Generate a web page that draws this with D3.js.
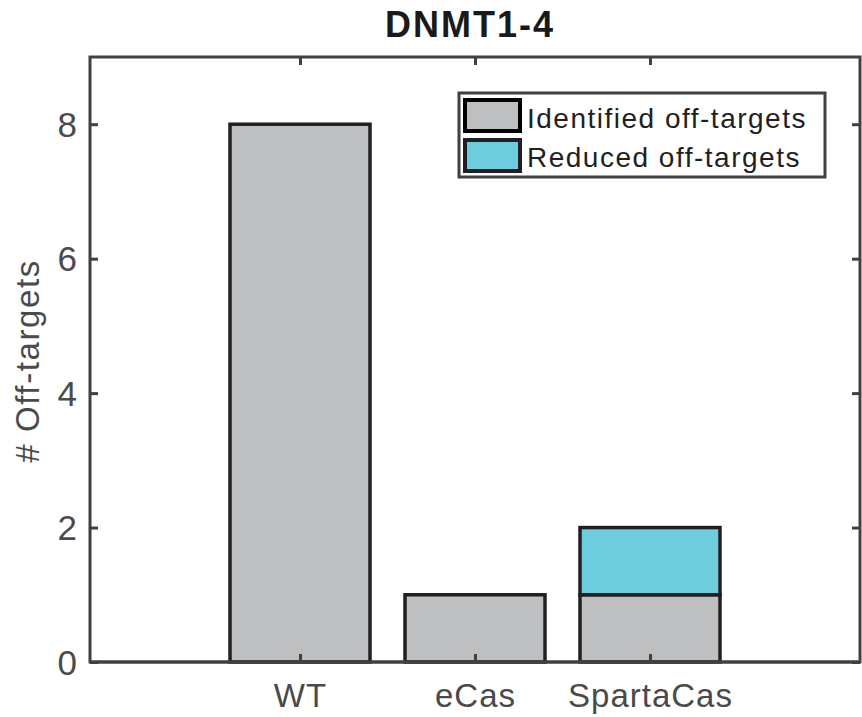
<!DOCTYPE html>
<html>
<head>
<meta charset="utf-8">
<script src="https://cdn.jsdelivr.net/npm/d3@7/dist/d3.min.js"></script>
<style>
  html, body { margin: 0; padding: 0; background: #fff; }
  svg { display: block; }
  text { font-family: "Liberation Sans", Arial, Helvetica, sans-serif; }
</style>
</head>
<body>
<svg id="chart" width="862" height="717"></svg>
<script>
// Data
const categories = ["WT", "eCas", "SpartaCas"];
const identified = [8, 1, 1];
const reduced = [0, 0, 1];
const seriesNames = ["Identified off-targets", "Reduced off-targets"];
const seriesColors = ["#bebfc1", "#6ecddc"];
const yTicks = [0, 2, 4, 6, 8];
const titleText = "DNMT1-4";
const yLabel = "# Off-targets";

const svg = d3.select("#chart");
const margin = { left: 90, right: 2, top: 57, bottom: 55 };
const W = 862, H = 717;
const x0 = margin.left, x1 = W - margin.right;
const y0 = H - margin.bottom, y1 = margin.top;

const axisColor = "#404040";
const edgeColor = "#231f20";

// Category positions 1..n on a numeric axis with padding on both sides
const x = d3.scaleLinear().domain([-0.2, 4.2]).range([x0, x1]);
const y = d3.scaleLinear().domain([0, 9]).range([y0, y1]);
const barW = x(0.8) - x(0);

// Stacked series
const stacked = categories.map((c, i) => ({
  cat: c, pos: i + 1,
  segs: [
    { s: 0, lo: 0, hi: identified[i] },
    { s: 1, lo: identified[i], hi: identified[i] + reduced[i] }
  ].filter(d => d.hi > d.lo)
}));

const bars = svg.append("g");
stacked.forEach(b => {
  b.segs.forEach(seg => {
    bars.append("rect")
      .attr("x", x(b.pos) - barW / 2)
      .attr("y", y(seg.hi))
      .attr("width", barW)
      .attr("height", y(seg.lo) - y(seg.hi))
      .attr("fill", seriesColors[seg.s])
      .attr("stroke", edgeColor)
      .attr("stroke-width", 3.5);
  });
});

// Axes box
const tickLen = 8;
svg.append("rect")
  .attr("x", x0).attr("y", y1)
  .attr("width", x1 - x0).attr("height", y0 - y1)
  .attr("fill", "none").attr("stroke", axisColor).attr("stroke-width", 3);

// Bottom axis
const xAxis = d3.axisBottom(x).tickValues([1, 2, 3])
  .tickFormat(d => categories[d - 1]).tickSizeInner(-tickLen).tickSizeOuter(0);
const gx = svg.append("g").attr("transform", `translate(0,${y0})`).call(xAxis);
gx.select(".domain").remove();
gx.selectAll(".tick line").attr("stroke", axisColor).attr("stroke-width", 3);
gx.selectAll(".tick text")
  .attr("fill", "#4a4a4a").attr("font-size", 33)
  .attr("letter-spacing", 1)
  .attr("x", 0).attr("y", 45).attr("dy", null)
  .attr("text-anchor", "middle");

// Top mirror ticks
const gxt = svg.append("g").attr("transform", `translate(0,${y1})`)
  .call(d3.axisTop(x).tickValues([1, 2, 3]).tickSizeInner(-tickLen).tickSizeOuter(0).tickFormat(""));
gxt.select(".domain").remove();
gxt.selectAll(".tick line").attr("stroke", axisColor).attr("stroke-width", 3);

// Left axis
const yAxis = d3.axisLeft(y).tickValues(yTicks).tickSizeInner(-tickLen).tickSizeOuter(0);
const gy = svg.append("g").attr("transform", `translate(${x0},0)`).call(yAxis);
gy.select(".domain").remove();
gy.selectAll(".tick line").attr("stroke", axisColor).attr("stroke-width", 3);
gy.selectAll(".tick text")
  .attr("fill", "#4a4a4a").attr("font-size", 35)
  .attr("x", -13).attr("y", 12).attr("dy", null)
  .attr("text-anchor", "end");

// Right mirror ticks
const gyr = svg.append("g").attr("transform", `translate(${x1},0)`)
  .call(d3.axisRight(y).tickValues(yTicks).tickSizeInner(-tickLen).tickSizeOuter(0).tickFormat(""));
gyr.select(".domain").remove();
gyr.selectAll(".tick line").attr("stroke", axisColor).attr("stroke-width", 3);

// Baseline drawn over the bar edges
svg.append("line").attr("x1", x0).attr("x2", x1).attr("y1", y0).attr("y2", y0)
  .attr("stroke", axisColor).attr("stroke-width", 3);

// Title
svg.append("text")
  .attr("x", 470).attr("y", 37)
  .attr("text-anchor", "middle")
  .attr("font-size", 36).attr("font-weight", "bold").attr("fill", "#1a1a1a")
  .attr("letter-spacing", 2)
  .text(titleText);

// Y label
svg.append("text")
  .attr("transform", `translate(39,361) rotate(-90)`)
  .attr("text-anchor", "middle")
  .attr("font-size", 33).attr("fill", "#4a4a4a")
  .attr("letter-spacing", 1.6)
  .text(yLabel);

// Legend
const lg = svg.append("g");
lg.append("rect")
  .attr("x", 459).attr("y", 93).attr("width", 366).attr("height", 84)
  .attr("fill", "#fff").attr("stroke", axisColor).attr("stroke-width", 3);
seriesNames.forEach((name, i) => {
  const yy = 100 + i * 40;
  lg.append("rect")
    .attr("x", 465).attr("y", yy).attr("width", 55).attr("height", 31)
    .attr("fill", seriesColors[i])
    .attr("stroke", i === 0 ? "#000" : edgeColor).attr("stroke-width", 4);
  lg.append("text")
    .attr("x", 527).attr("y", 128 + i * 39)
    .attr("font-size", 28).attr("fill", "#231f20")
    .attr("letter-spacing", 1.5)
    .text(name);
});
</script>
</body>
</html>
